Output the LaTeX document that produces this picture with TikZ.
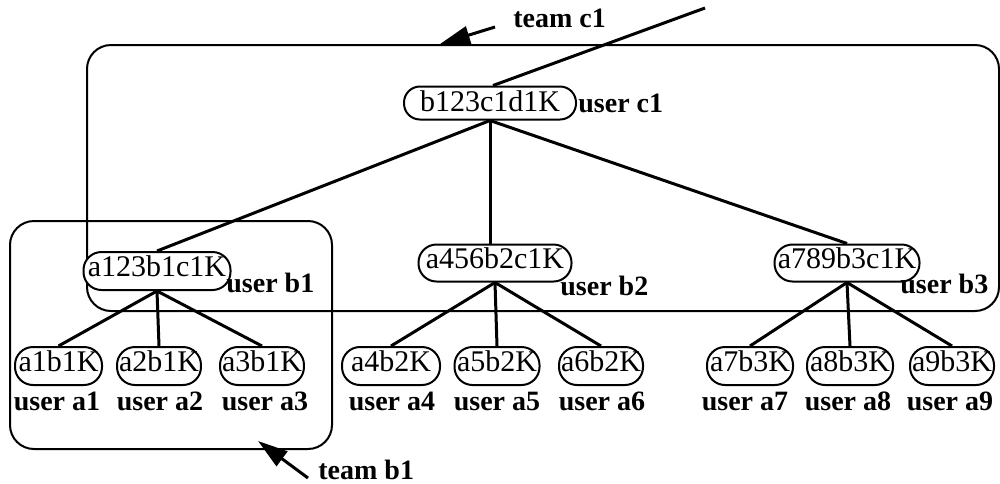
\documentclass[tikz,border=0pt]{standalone}
\usepackage{fontspec}
\setmainfont{Liberation Serif}
\usetikzlibrary{arrows.meta}
\begin{document}
\begin{tikzpicture}[x=0.5pt,y=-0.5pt,
  key/.style={draw, line width=1pt, fill=white, rounded corners=9pt, minimum height=19pt, inner xsep=1pt, inner ysep=0pt, text depth=5pt, font=\fontsize{15}{15}\selectfont},
  lbl/.style={font=\fontsize{14}{14}\selectfont\bfseries, inner sep=0pt},
  team/.style={line width=1pt, rounded corners=12pt},
  edge/.style={line width=1.5pt},
  pointer/.style={line width=1.5pt, -{Triangle[length=15pt,width=9pt]}}]
\useasboundingbox (0,0) rectangle (1000,483);
% team boxes
\draw[team] (87,45) rectangle (999,311);
\draw[team] (10,221) rectangle (332,449);
% nodes
\node[key, minimum width=86pt, minimum height=16.5pt, rounded corners=8pt, text depth=2pt] (c1) at (490,103) {b123c1d1K};
\node[key, minimum width=73.5pt] (b1) at (157,271) {a123b1c1K};
\node[key, minimum width=76.5pt, minimum height=18.5pt] (b2) at (495,263) {a456b2c1K};
\node[key, minimum width=72.5pt, minimum height=18.5pt] (b3) at (847,263) {a789b3c1K};
\node[key, minimum width=43.5pt] (a1) at (58.5,366) {a1b1K};
\node[key, minimum width=41pt] (a2) at (159,366) {a2b1K};
\node[key, minimum width=41.5pt] (a3) at (262,366) {a3b1K};
\node[key, minimum width=49pt] (a4) at (391,366) {a4b2K};
\node[key, minimum width=42.5pt] (a5) at (497,366) {a5b2K};
\node[key, minimum width=41.5pt] (a6) at (601,366) {a6b2K};
\node[key, minimum width=43pt] (a7) at (750,366) {a7b3K};
\node[key, minimum width=43pt] (a8) at (850,366) {a8b3K};
\node[key, minimum width=41.5pt] (a9) at (952,366) {a9b3K};
% labels
\node[lbl, anchor=west] (uc1) at (578,103) {user c1};
\node[lbl, anchor=west] (ub1) at (226,283) {user b1};
\node[lbl, anchor=west] (ub2) at (560,286) {user b2};
\node[lbl, anchor=west] (ub3) at (900,284) {user b3};
\node[lbl] (ua1) at (57,401) {user a1};
\node[lbl] (ua2) at (160,401) {user a2};
\node[lbl] (ua3) at (265,401) {user a3};
\node[lbl] (ua4) at (392,401) {user a4};
\node[lbl] (ua5) at (497,401) {user a5};
\node[lbl] (ua6) at (602,401) {user a6};
\node[lbl] (ua7) at (745,401) {user a7};
\node[lbl] (ua8) at (848,401) {user a8};
\node[lbl] (ua9) at (950,401) {user a9};
% edges
\draw[edge] (c1.south) -- (b1.north);
\draw[edge] (c1.south) -- (c1.south |- b2.north);
\draw[edge] (c1.south) -- (b3.north);
\draw[edge] (b1.south) -- (a1.north);
\draw[edge] (b1.south) -- (a2.north);
\draw[edge] (b1.south) -- (a3.north);
\draw[edge] (b2.south) -- (a4.north);
\draw[edge] (b2.south) -- (a5.north);
\draw[edge] (b2.south) -- (a6.north);
\draw[edge] (b3.south) -- (a7.north);
\draw[edge] (b3.south) -- (a8.north);
\draw[edge] (b3.south) -- (a9.north);
\coordinate (far) at (705,8);
\draw[edge] ([xshift=1.5pt]c1.north) -- (far);
% team pointers
\node[lbl, anchor=west] (tc1) at (513,18) {team c1};
\coordinate (tc1tail) at (495,27);
\coordinate (tc1tip) at (440,44);
\draw[pointer] (tc1tail) -- (tc1tip);
\node[lbl, anchor=west] (tb1) at (318,470) {team b1};
\coordinate (tb1tail) at (308,478);
\coordinate (tb1tip) at (258,441);
\draw[pointer] (tb1tail) -- (tb1tip);
\end{tikzpicture}
\end{document}
